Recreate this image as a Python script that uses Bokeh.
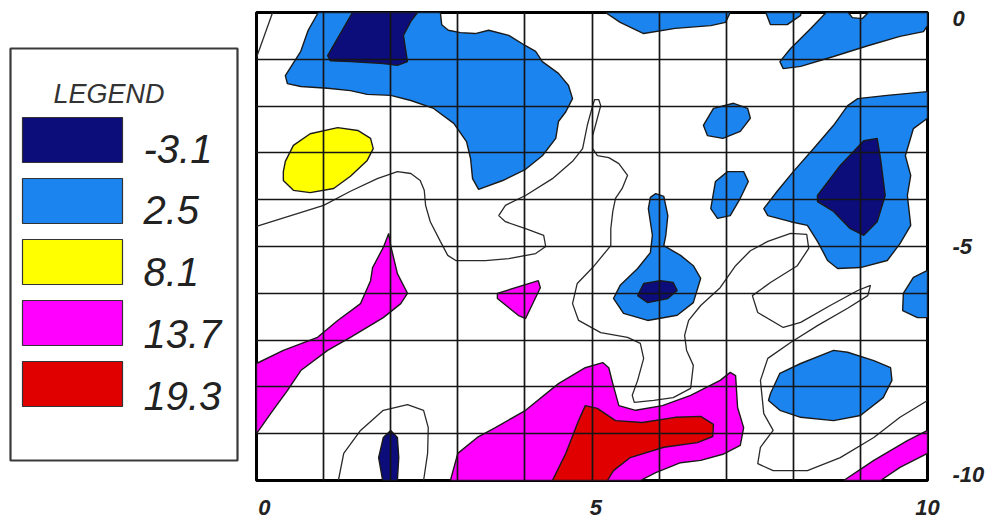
from bokeh.plotting import figure
from bokeh.models import Range1d, FixedTicker, LinearAxis
from bokeh.layouts import row
from bokeh.embed import file_html
from bokeh.resources import INLINE
from bokeh.core.properties import value

# ---------------- data ----------------
LEVELS = ["-3.1", "2.5", "8.1", "13.7", "19.3"]
COLORS = ["#0c0c7a", "#1c84ee", "#ffff00", "#ff00ff", "#e00000"]

X_TICKS = [0, 5, 10]
X_TICK_LABELS = ["0", "5", "10"]
Y_TICKS = [0, -5, -10]
Y_TICK_LABELS = ["0", "-5", "-10"]
GRID_X = [0, 1, 2, 3, 4, 5, 6, 7, 8, 9, 10]
GRID_Y = [0, -1, -2, -3, -4, -5, -6, -7, -8, -9, -10]

# level 2.5 (blue) areas
BLUE_A_X = [0.92, 0.77, 0.66, 0.43, 0.46, 0.66, 1.06, 1.40, 1.65, 2.00, 2.30, 2.64, 2.94, 3.13, 3.19, 3.22, 3.31, 3.67,
            4.01, 4.26, 4.46, 4.50, 4.61, 4.71, 4.65, 4.50, 4.26, 4.16, 4.01, 3.76, 3.46, 3.26, 3.04, 2.86, 2.76, 2.74]
BLUE_A_Y = [0, -0.38, -0.83, -1.35, -1.52, -1.58, -1.62, -1.67, -1.75, -1.77, -1.88, -2.05, -2.37, -2.76, -3.12, -3.55,
            -3.78, -3.59, -3.35, -3.06, -2.69, -2.33, -2.12, -1.84, -1.56, -1.30, -1.05, -0.83, -0.71, -0.49, -0.38,
            -0.45, -0.43, -0.38, -0.26, 0]
BLUE_B_X = [5.20, 5.42, 5.77, 6.24, 6.77, 6.99, 7.06]
BLUE_B_Y = [0, -0.21, -0.45, -0.34, -0.28, -0.21, 0]
BLUE_C_X = [7.59, 7.66, 7.91, 8.11, 8.11]
BLUE_C_Y = [0, -0.26, -0.26, -0.06, 0]
BLUE_D_X = [8.49, 8.26, 7.96, 7.80, 7.85, 8.11, 8.60, 9.11, 9.59, 9.94, 10, 10, 9.12, 9.03, 8.88, 8.82]
BLUE_D_Y = [0, -0.34, -0.77, -1.05, -1.20, -1.15, -0.94, -0.71, -0.51, -0.41, -0.28, 0, 0, -0.13, -0.11, 0]
BLUE_E_X = [6.66, 6.81, 7.11, 7.32, 7.36, 7.21, 6.95, 6.72]
BLUE_E_Y = [-2.41, -2.05, -1.94, -2.05, -2.26, -2.54, -2.69, -2.63]
BLUE_F_X = [6.77, 6.84, 7.02, 7.26, 7.33, 7.21, 7.06, 6.87]
BLUE_F_Y = [-4.19, -3.61, -3.40, -3.40, -3.61, -3.97, -4.34, -4.40]
BLUE_G_X = [10, 9.40, 8.96, 8.81, 8.60, 8.30, 8.00, 7.76, 7.56, 7.62, 7.96, 8.21, 8.36, 8.45, 8.51, 8.66, 9.00, 9.40,
            9.59, 9.75, 9.70, 9.75, 9.67, 9.79, 10]
BLUE_G_Y = [-1.69, -1.77, -1.84, -1.99, -2.41, -2.91, -3.40, -3.82, -4.19, -4.34, -4.47, -4.55, -4.89, -5.13, -5.30,
            -5.47, -5.45, -5.30, -4.94, -4.55, -3.91, -3.48, -3.06, -2.48, -2.26]
BLUE_H_X = [10, 9.79, 9.64, 9.63, 9.85, 10]
BLUE_H_Y = [-5.51, -5.66, -6.00, -6.37, -6.52, -6.52]
BLUE_I_X = [7.66, 7.80, 8.11, 8.60, 8.81, 9.20, 9.45, 9.47, 9.34, 9.00, 8.60, 8.11, 7.80, 7.63]
BLUE_I_Y = [-8.14, -7.71, -7.50, -7.22, -7.26, -7.44, -7.59, -7.86, -8.23, -8.61, -8.72, -8.65, -8.50, -8.29]
BLUE_J_X = [5.95, 6.07, 6.13, 6.10, 6.07, 6.32, 6.51, 6.62, 6.51, 6.27, 5.83, 5.47, 5.32, 5.42, 5.68, 5.87, 5.90,
            5.84, 5.87]
BLUE_J_Y = [-3.87, -3.93, -4.34, -4.76, -4.98, -5.19, -5.41, -5.68, -6.20, -6.47, -6.58, -6.43, -6.11, -5.83, -5.47,
            -5.13, -4.76, -4.19, -3.95]

# level -3.1 (navy) areas
NAVY_A_X = [1.43, 1.06, 1.10, 1.40, 1.89, 2.10, 2.25, 2.22, 2.19, 2.30, 2.40]
NAVY_A_Y = [0, -0.92, -1.03, -1.05, -1.09, -1.13, -1.05, -0.77, -0.49, -0.19, 0]
NAVY_G_X = [8.36, 8.70, 9.05, 9.25, 9.30, 9.37, 9.25, 9.05, 8.85, 8.60, 8.36]
NAVY_G_Y = [-3.91, -3.27, -2.74, -2.69, -3.12, -3.91, -4.47, -4.76, -4.62, -4.25, -4.04]
NAVY_J_X = [5.68, 5.77, 6.02, 6.21, 6.27, 6.13, 5.83]
NAVY_J_Y = [-6.05, -5.79, -5.73, -5.77, -5.94, -6.11, -6.20]
NAVY_K_X = [2.00, 2.10, 2.12, 2.10, 1.88, 1.82, 1.89]
NAVY_K_Y = [-8.93, -9.08, -9.51, -10, -10, -9.51, -9.08]

# level 8.1 (yellow)
YELLOW_X = [0.43, 0.55, 0.80, 1.21, 1.51, 1.70, 1.74, 1.65, 1.40, 1.15, 0.80, 0.55, 0.40, 0.40]
YELLOW_Y = [-3.18, -2.84, -2.59, -2.46, -2.52, -2.69, -2.91, -3.16, -3.50, -3.76, -3.85, -3.80, -3.59, -3.40]

# level 13.7 (magenta)
MAG_A_X = [3.59, 4.20, 4.23, 4.01, 3.90, 3.59]
MAG_A_Y = [-6.00, -5.73, -5.88, -6.54, -6.47, -6.11]
MAG_B_X = [1.97, 2.00, 2.10, 2.25, 2.15, 1.89, 1.40, 1.06, 0.66, 0.46, 0.21, 0, 0, 0.40, 0.91, 1.21, 1.55, 1.70,
           1.73, 1.89]
MAG_B_Y = [-4.72, -4.98, -5.58, -6.00, -6.22, -6.52, -6.94, -7.22, -7.65, -8.08, -8.57, -9.00, -7.50, -7.22, -6.94,
           -6.58, -6.22, -5.73, -5.45, -5.02]
MAG_C_X = [2.89, 3.00, 3.29, 3.56, 4.01, 4.50, 4.90, 5.16, 5.25, 5.31, 5.40, 5.65, 6.05, 6.47, 6.91, 7.06, 7.14, 7.17,
           7.26, 7.21, 6.95, 6.62, 6.32, 5.95, 5.72]
MAG_C_Y = [-10, -9.42, -9.08, -8.87, -8.50, -7.93, -7.59, -7.48, -7.59, -7.93, -8.40, -8.50, -8.40, -8.18, -7.86,
           -7.69, -7.76, -8.44, -8.87, -9.25, -9.44, -9.57, -9.62, -9.83, -10]
MAG_D_X = [8.75, 9.20, 9.70, 10, 10, 9.59, 9.30]
MAG_D_Y = [-10, -9.57, -9.15, -8.93, -9.42, -9.72, -10]

# level 19.3 (red)
RED_A_X = [4.41, 4.61, 4.80, 4.90, 5.08, 5.35, 5.75, 6.24, 6.62, 6.81, 6.80, 6.57, 6.07, 5.57, 5.32, 5.23]
RED_A_Y = [-10, -9.42, -8.72, -8.40, -8.46, -8.72, -8.76, -8.65, -8.63, -8.80, -9.06, -9.19, -9.29, -9.51, -9.79, -10]

# unfilled contour lines
LINE_A_X = [0.24, 0]
LINE_A_Y = [0, -0.96]
LINE_B_X = [1.22, 1.30, 1.55, 1.89, 2.25, 2.49, 2.56, 2.55, 2.49]
LINE_B_Y = [-10, -9.42, -8.93, -8.50, -8.38, -8.50, -8.87, -9.42, -10]
LINE_C_X = [0, 1.00, 1.40, 1.80, 2.10, 2.30, 2.44, 2.50, 2.52, 2.59, 2.74, 2.85, 2.97, 3.41, 3.76, 4.16, 4.31, 4.28,
            4.01, 3.71, 3.61, 3.71, 4.01, 4.41, 4.71, 4.86, 4.93, 5.01, 5.04, 5.10, 5.13, 5.08, 5.01, 5.01, 5.08, 5.25,
            5.40, 5.53, 5.45, 5.35, 5.31, 5.28, 5.28, 5.01, 4.78, 4.71, 4.80, 5.13, 5.53, 5.72, 5.77, 5.68, 5.60, 5.63,
            5.92, 6.21, 6.47, 6.51, 6.41, 6.38, 6.44, 6.62, 6.91, 7.14, 7.36, 7.62, 7.96, 8.20, 8.23, 8.06, 7.66, 7.39,
            7.47, 7.85, 8.11, 8.55, 8.96, 9.15, 9.11, 8.81, 8.36, 7.96, 7.62, 7.51, 7.56, 7.70, 7.51, 7.47, 7.70, 8.21,
            8.70, 9.20, 9.59, 10]
LINE_C_Y = [-4.57, -4.12, -3.82, -3.55, -3.40, -3.44, -3.59, -3.80, -4.12, -4.47, -4.89, -5.19, -5.30, -5.30, -5.26,
            -5.15, -5.00, -4.76, -4.62, -4.47, -4.34, -4.12, -3.91, -3.55, -3.18, -2.91, -2.41, -1.99, -1.86, -1.86,
            -1.99, -2.26, -2.63, -2.91, -3.06, -3.10, -3.23, -3.48, -3.76, -3.97, -4.25, -4.62, -4.98, -5.45, -5.79,
            -6.22, -6.58, -6.84, -6.94, -7.07, -7.39, -7.86, -8.18, -8.33, -8.29, -8.23, -8.03, -7.54, -7.22, -6.90,
            -6.58, -6.26, -5.88, -5.41, -5.09, -4.89, -4.72, -4.74, -5.04, -5.41, -5.77, -6.05, -6.41, -6.73, -6.62,
            -6.26, -5.94, -5.83, -6.05, -6.32, -6.69, -7.05, -7.39, -7.86, -8.57, -8.93, -9.29, -9.64, -9.79, -9.79,
            -9.51, -9.08, -8.65, -8.29]

# ---------------- main map ----------------
FONT = "Liberation Sans"
TOP = 12
FRAME_H = 468
BOTTOM = 40

p = figure(frame_width=671, frame_height=FRAME_H,
           x_range=Range1d(0, 10), y_range=Range1d(-10, 0),
           x_axis_location=None, y_axis_location=None, output_backend="svg", toolbar_location=None,
           min_border_left=10, min_border_top=TOP, min_border_right=62, min_border_bottom=BOTTOM)
p.background_fill_color = "white"
p.border_fill_color = "white"
p.outline_line_color = "black"
p.outline_line_width = 3

groups = [
    (1, [(BLUE_A_X, BLUE_A_Y), (BLUE_B_X, BLUE_B_Y), (BLUE_C_X, BLUE_C_Y), (BLUE_D_X, BLUE_D_Y),
         (BLUE_E_X, BLUE_E_Y), (BLUE_F_X, BLUE_F_Y), (BLUE_G_X, BLUE_G_Y), (BLUE_H_X, BLUE_H_Y),
         (BLUE_I_X, BLUE_I_Y), (BLUE_J_X, BLUE_J_Y)]),
    (3, [(MAG_A_X, MAG_A_Y), (MAG_B_X, MAG_B_Y), (MAG_C_X, MAG_C_Y), (MAG_D_X, MAG_D_Y)]),
    (2, [(YELLOW_X, YELLOW_Y)]),
    (0, [(NAVY_A_X, NAVY_A_Y), (NAVY_G_X, NAVY_G_Y), (NAVY_J_X, NAVY_J_Y), (NAVY_K_X, NAVY_K_Y)]),
    (4, [(RED_A_X, RED_A_Y)]),
]
for idx, shapes in groups:
    p.patches(xs=[s[0] for s in shapes], ys=[s[1] for s in shapes],
              fill_color=COLORS[idx], line_color="#1a1a1a", line_width=1.4)

p.multi_line(xs=[LINE_A_X, LINE_B_X, LINE_C_X], ys=[LINE_A_Y, LINE_B_Y, LINE_C_Y],
             line_color="#2a2a2a", line_width=1.3)

# grid drawn above the fills
p.xgrid.ticker = FixedTicker(ticks=GRID_X)
p.ygrid.ticker = FixedTicker(ticks=GRID_Y)
for g in (p.xgrid[0], p.ygrid[0]):
    g.level = "overlay"
    g.grid_line_color = "#151515"
    g.grid_line_width = 1.7
    g.grid_line_alpha = 1.0

# tick labels of the original sit slightly inside the end ticks
p.extra_x_ranges = {"xlabels": Range1d(-0.12, 10.0)}
p.extra_y_ranges = {"ylabels": Range1d(-10.13, 0.13)}
baxis = LinearAxis(x_range_name="xlabels")
raxis = LinearAxis(y_range_name="ylabels")
p.add_layout(baxis, "below")
p.add_layout(raxis, "right")

for ax in (baxis, raxis):
    ax.axis_line_color = None
    ax.major_tick_line_color = None
    ax.minor_tick_line_color = None
    ax.major_tick_in = 0
    ax.major_tick_out = 0
    ax.minor_tick_in = 0
    ax.minor_tick_out = 0
    ax.major_label_text_font = FONT
    ax.major_label_text_font_style = "bold italic"
    ax.major_label_text_font_size = "22px"
    ax.major_label_text_color = "#222222"
baxis.ticker = FixedTicker(ticks=X_TICKS)
baxis.major_label_overrides = {t: s for t, s in zip(X_TICKS, X_TICK_LABELS)}
raxis.ticker = FixedTicker(ticks=Y_TICKS)
raxis.major_label_overrides = {t: s for t, s in zip(Y_TICKS, Y_TICK_LABELS)}
baxis.major_label_standoff = 19
raxis.major_label_standoff = 25

# ---------------- legend panel ----------------
leg = figure(frame_width=246, frame_height=FRAME_H,
             x_range=Range1d(0, 246), y_range=Range1d(TOP + FRAME_H, TOP),
             x_axis_type=None, y_axis_type=None, toolbar_location=None, output_backend="svg",
             min_border_left=0, min_border_right=0, min_border_top=TOP, min_border_bottom=BOTTOM,
             outline_line_color=None)
leg.background_fill_color = "white"
leg.border_fill_color = "white"

n = len(LEVELS)
pitch = 61
leg.quad(left=[10], right=[237], top=[48], bottom=[460], fill_color=None,
         line_color="#3a3a3a", line_width=2.2)
leg.quad(left=[22] * n, right=[122] * n,
         top=[117 + pitch * i for i in range(n)], bottom=[162 + pitch * i for i in range(n)],
         fill_color=COLORS, line_color="#333333", line_width=1.2)
leg.text(x=[143] * n, y=[148 + 61.8 * i for i in range(n)], text=LEVELS,
         text_font=value(FONT), text_font_style="italic", text_font_size="40px",
         text_color="#222222", text_baseline="alphabetic", text_align="left")
leg.text(x=[53], y=[93], text=["LEGEND"], text_font=value(FONT), text_font_style="italic",
         text_font_size="27px", text_color="#333333", text_baseline="alphabetic", text_align="left")

layout = row(leg, p)
open("out.html", "w").write(file_html(layout, INLINE))
